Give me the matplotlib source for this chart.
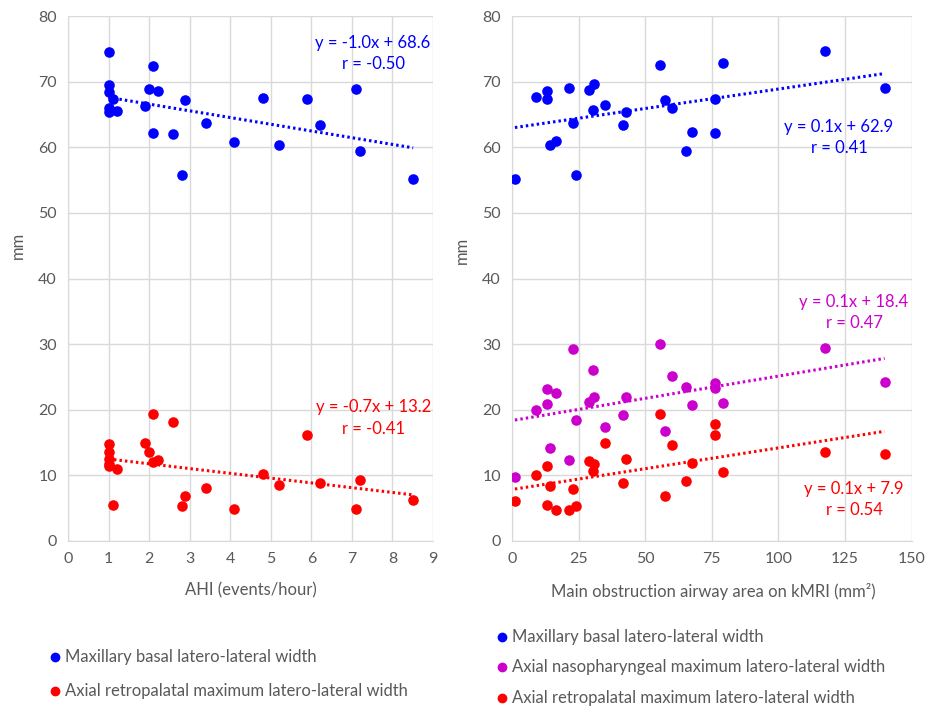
import numpy as np
import matplotlib
matplotlib.use("Agg")
import matplotlib.pyplot as plt
from matplotlib.lines import Line2D

plt.rcParams['font.family'] = ['Lato', 'DejaVu Sans']

# ---------------- data ----------------
ahi = [1, 1, 1, 1, 1, 1.1, 1.22, 1.89, 1.99, 2.1, 2.1, 2.22, 2.6, 2.81, 2.88,
       3.4, 4.1, 4.8, 5.21, 5.89, 6.22, 7.1, 7.21, 8.51]
ahi_maxillary = [74.5, 69.5, 68.4, 66.0, 65.4, 67.4, 65.6, 66.3, 68.9, 72.4, 62.2,
                 68.6, 62.0, 55.7, 67.2, 63.7, 60.8, 67.5, 60.4, 67.4, 63.4, 68.9,
                 59.4, 55.1]
ahi_retropalatal = [14.8, 13.6, 12.5, 11.8, 11.5, 5.5, 10.9, 15.0, 13.5, 19.4, 12.0,
                    12.3, 18.1, 5.3, 6.9, 8.1, 4.9, 10.2, 8.5, 16.1, 8.9, 4.9, 9.3, 6.3]

airway = [1.1, 9.0, 13.3, 13.3, 14.1, 16.5, 21.3, 22.9, 24.0, 28.8, 30.8, 30.4, 34.9,
          41.7, 42.9, 55.7, 57.4, 60.1, 65.3, 67.6, 76.1, 76.3, 79.4, 117.6, 139.9]
aw_maxillary = [55.1, 67.7, 68.5, 67.4, 60.4, 60.9, 69.0, 63.7, 55.8, 68.7, 69.6, 65.7,
                66.4, 63.4, 65.3, 72.5, 67.2, 66.0, 59.4, 62.3, 62.2, 67.4, 72.9, 74.6, 69.0]
aw_nasopharyngeal = [9.7, 20.0, 23.1, 20.9, 14.1, 22.6, 12.3, 29.2, 18.4, 21.2, 21.9, 26.1,
                     17.3, 19.2, 21.9, 30.0, 16.7, 25.1, 23.5, 20.8, 24.1, 23.3, 21.0, 29.4, 24.3]
aw_retropalatal = [6.1, 10.1, 11.5, 5.5, 8.4, 4.8, 4.8, 7.9, 5.3, 12.2, 11.8, 10.6, 14.9,
                   8.9, 12.5, 19.3, 6.8, 14.6, 9.2, 11.9, 17.9, 16.1, 10.5, 13.6, 13.3]

labels = ["Maxillary basal latero-lateral width",
          "Axial nasopharyngeal maximum latero-lateral width",
          "Axial retropalatal maximum latero-lateral width"]

left_eq = [("y = -1.0x + 68.6", "r = -0.50"), ("y = -0.7x + 13.2", "r = -0.41")]
right_eq = [("y = 0.1x + 62.9", "r = 0.41"), ("y = 0.1x + 18.4", "r = 0.47"),
            ("y = 0.1x + 7.9", "r = 0.54")]

left_xticks = list(range(0, 10))
right_xticks = [0, 25, 50, 75, 100, 125, 150]
yticks = [0, 10, 20, 30, 40, 50, 60, 70, 80]

BLUE = '#0000FF'
MAG = '#CC00CC'
RED = '#FF0000'
GRID = '#D9D9D9'
TXT = '#595959'

W, H = 927, 706
fig = plt.figure(figsize=(W / 100, H / 100), dpi=100)


def px_ax(x0, x1, y0, y1):
    return fig.add_axes([x0 / W, 1 - y1 / H, (x1 - x0) / W, (y1 - y0) / H])


def style(ax, xticks, xlim):
    ax.set_xlim(*xlim)
    ax.set_ylim(0, 80)
    ax.set_xticks(xticks)
    ax.set_yticks(yticks)
    ax.grid(True, color=GRID, lw=1)
    ax.set_axisbelow(True)
    for s in ax.spines.values():
        s.set_visible(False)
    ax.spines['left'].set_visible(True)
    ax.spines['bottom'].set_visible(True)
    ax.spines['left'].set_color(GRID)
    ax.spines['bottom'].set_color(GRID)
    ax.tick_params(length=0, labelsize=11.5, labelcolor=TXT, pad=8)


def series(ax, x, y, c):
    ax.scatter(x, y, s=58, color=c, zorder=3, linewidths=0)
    x = np.asarray(x, float)
    m, b = np.polyfit(x, y, 1)
    xs = np.array([x.min(), x.max()])
    ax.plot(xs, m * xs + b, color=c, lw=2.2, ls=(0, (0.8, 1.0)), zorder=2)


axL = px_ax(68, 433, 16, 541)
style(axL, left_xticks, (0, 9))
series(axL, ahi, ahi_maxillary, BLUE)
series(axL, ahi, ahi_retropalatal, RED)

axR = px_ax(512, 911.5, 16, 541)
style(axR, right_xticks, (0, 150))
series(axR, airway, aw_maxillary, BLUE)
series(axR, airway, aw_nasopharyngeal, MAG)
series(axR, airway, aw_retropalatal, RED)


def ftext(x, y, s, **kw):
    fig.text(x / W, 1 - y / H, s, **kw)


# axis titles
ftext(251, 590, "AHI (events/hour)", ha='center', va='center', fontsize=12, color=TXT)
ftext(713, 591, "Main obstruction airway area on kMRI (mm²)", ha='center',
      va='center', fontsize=12, color=TXT)
ftext(18, 245, "mm", ha='center', va='center', rotation=90, fontsize=12, color=TXT)
ftext(462, 250, "mm", ha='center', va='center', rotation=90, fontsize=12, color=TXT)

# equation labels
eq_pos = [(373, 43, 64, BLUE, left_eq[0]), (374, 407, 429, RED, left_eq[1]),
          (839, 127, 148, BLUE, right_eq[0]), (854, 302, 323, MAG, right_eq[1]),
          (854, 489, 510, RED, right_eq[2])]
for x, y1, y2, c, (l1, l2) in eq_pos:
    ftext(x, y1, l1, ha='center', va='center', fontsize=12, color=c)
    ftext(x, y2, l2, ha='center', va='center', fontsize=12, color=c)

# legends
def leg(x, y, c, s):
    fig.add_artist(Line2D([x / W], [1 - y / H], marker='o', ms=6, color=c,
                          ls='none', transform=fig.transFigure))
    ftext(x + 10, y, s, ha='left', va='center', fontsize=12, color=TXT)

leg(55, 657, BLUE, labels[0])
leg(55, 691, RED, labels[2])
leg(502, 637, BLUE, labels[0])
leg(502, 667, MAG, labels[1])
leg(502, 698, RED, labels[2])

fig.savefig("out.png", dpi=100)
